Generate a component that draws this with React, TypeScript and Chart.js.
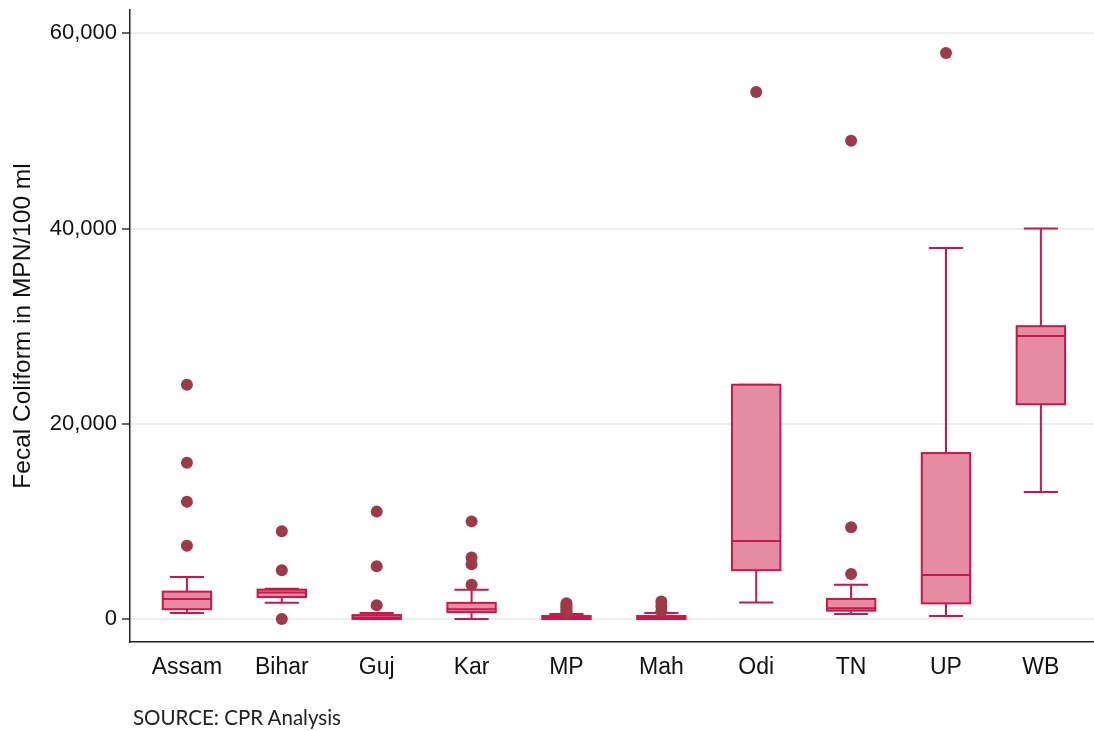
import React, { useEffect, useRef } from "react";
import { Chart, registerables } from "chart.js";

Chart.register(...registerables);

const categories = ["Assam", "Bihar", "Guj", "Kar", "MP", "Mah", "Odi", "TN", "UP", "WB"];
const whiskerLow = [600, 1650, 0, 0, 0, 0, 1700, 500, 300, 13000];
const quartile1 = [1000, 2250, 0, 700, 0, 0, 5000, 850, 1600, 22000];
const medians = [2050, 2700, 150, 1000, 100, 100, 8000, 1100, 4500, 29000];
const quartile3 = [2800, 3000, 400, 1650, 300, 300, 24000, 2050, 17000, 30000];
const whiskerHigh = [4300, 3100, 600, 3000, 500, 600, 24000, 3500, 38000, 40000];
const outlierGroups = [
  [24000, 16000, 12000, 7500],
  [9000, 5000, 0],
  [11000, 5400, 1400],
  [10000, 6300, 5600, 3500],
  [1600, 1400, 1200, 1000, 800, 600],
  [1800, 1300, 800],
  [54000],
  [49000, 9400, 4600],
  [58000],
  [],
];
const yTicks = [0, 20000, 40000, 60000];

const BOX_HALF = 0.255;
const CAP_HALF = 0.18;

const boxPlugin = {
  id: "boxes",
  beforeDatasetsDraw(chart: any) {
    const { ctx, scales } = chart;
    const xs = scales.x;
    const ys = scales.y;
    ctx.save();
    ctx.lineWidth = 2;
    ctx.strokeStyle = "#c8174b";
    categories.forEach((_, i) => {
      const xl = xs.getPixelForValue(i - BOX_HALF);
      const xr = xs.getPixelForValue(i + BOX_HALF);
      const xc = xs.getPixelForValue(i);
      const cl = xs.getPixelForValue(i - CAP_HALF);
      const cr = xs.getPixelForValue(i + CAP_HALF);
      const yq1 = ys.getPixelForValue(quartile1[i]);
      const yq3 = ys.getPixelForValue(quartile3[i]);
      const ym = ys.getPixelForValue(medians[i]);
      const ylo = ys.getPixelForValue(whiskerLow[i]);
      const yhi = ys.getPixelForValue(whiskerHigh[i]);
      ctx.beginPath();
      ctx.moveTo(xc, yq3);
      ctx.lineTo(xc, yhi);
      ctx.moveTo(cl, yhi);
      ctx.lineTo(cr, yhi);
      ctx.moveTo(xc, yq1);
      ctx.lineTo(xc, ylo);
      ctx.moveTo(cl, ylo);
      ctx.lineTo(cr, ylo);
      ctx.stroke();
      ctx.fillStyle = "#e58ca2";
      ctx.fillRect(xl, yq3, xr - xl, yq1 - yq3);
      ctx.strokeRect(xl, yq3, xr - xl, yq1 - yq3);
      ctx.beginPath();
      ctx.moveTo(xl, ym);
      ctx.lineTo(xr, ym);
      ctx.stroke();
    });
    ctx.restore();
  },
};

export default function App() {
  const ref = useRef<HTMLCanvasElement>(null);
  useEffect(() => {
    if (!ref.current) return;
    const points: { x: number; y: number }[] = [];
    outlierGroups.forEach((g, i) => g.forEach((v) => points.push({ x: i, y: v })));
    const chart = new Chart(ref.current, {
      type: "scatter",
      data: {
        datasets: [
          {
            data: points,
            pointRadius: 6,
            pointHoverRadius: 6,
            pointBackgroundColor: "#9d3a47",
            pointBorderColor: "#9d3a47",
            pointBorderWidth: 0,
          },
        ],
      },
      plugins: [boxPlugin],
      options: {
        animation: false,
        responsive: false,
        devicePixelRatio: 1,
        layout: { autoPadding: false, padding: { left: 0, right: 0, top: 10, bottom: 0 } },
        plugins: { legend: { display: false }, tooltip: { enabled: false } },
        scales: {
          x: {
            type: "linear",
            min: -0.6,
            max: 9.56,
            afterBuildTicks: (s: any) => {
              s.ticks = categories.map((_, i) => ({ value: i }));
            },
            afterFit: (s: any) => {
              s.height = 89;
              s.paddingLeft = 0;
              s.paddingRight = 0;
            },
            grid: { display: false },
            border: { display: true, color: "#222", width: 1.5 },
            ticks: {
              padding: 4,
              color: "#111",
              font: { family: "Liberation Sans, Arial, sans-serif", size: 23 },
              callback: (v: any) => categories[v] ?? "",
              maxRotation: 0,
              autoSkip: false,
            },
          },
          y: {
            min: -2360,
            max: 62400,
            afterBuildTicks: (s: any) => {
              s.ticks = yTicks.map((v) => ({ value: v }));
            },
            afterFit: (s: any) => {
              s.width = 130;
              s.paddingTop = 0;
              s.paddingBottom = 0;
            },
            grid: {
              color: "#e9eeee",
              lineWidth: 2,
              tickColor: "#333",
              tickLength: 8,
              tickWidth: 1.5,
            },
            border: { display: true, color: "#222", width: 1.5 },
            ticks: {
              padding: 5,
              color: "#111",
              font: { family: "Liberation Sans, Arial, sans-serif", size: 22 },
              callback: (v: any) => Number(v).toLocaleString("en-US"),
            },
            title: {
              display: true,
              text: "Fecal Coliform in MPN/100 ml",
              color: "#111",
              font: { family: "Liberation Sans, Arial, sans-serif", size: 24.5 },
              padding: { top: 9, bottom: 0 },
            },
          },
        },
      },
    });
    return () => chart.destroy();
  }, []);
  return (
    <div style={{ position: "fixed", left: 0, top: 0, width: 1094, height: 731, background: "#fff" }}>
      <canvas ref={ref} width={1094} height={731} style={{ width: 1094, height: 731, display: "block" }} />
      <div
        style={{
          position: "absolute",
          left: 133,
          top: 705,
          fontFamily: "Lato, 'Open Sans', sans-serif",
          fontSize: 20.5,
          color: "#222",
        }}
      >
        SOURCE: CPR Analysis
      </div>
    </div>
  );
}
